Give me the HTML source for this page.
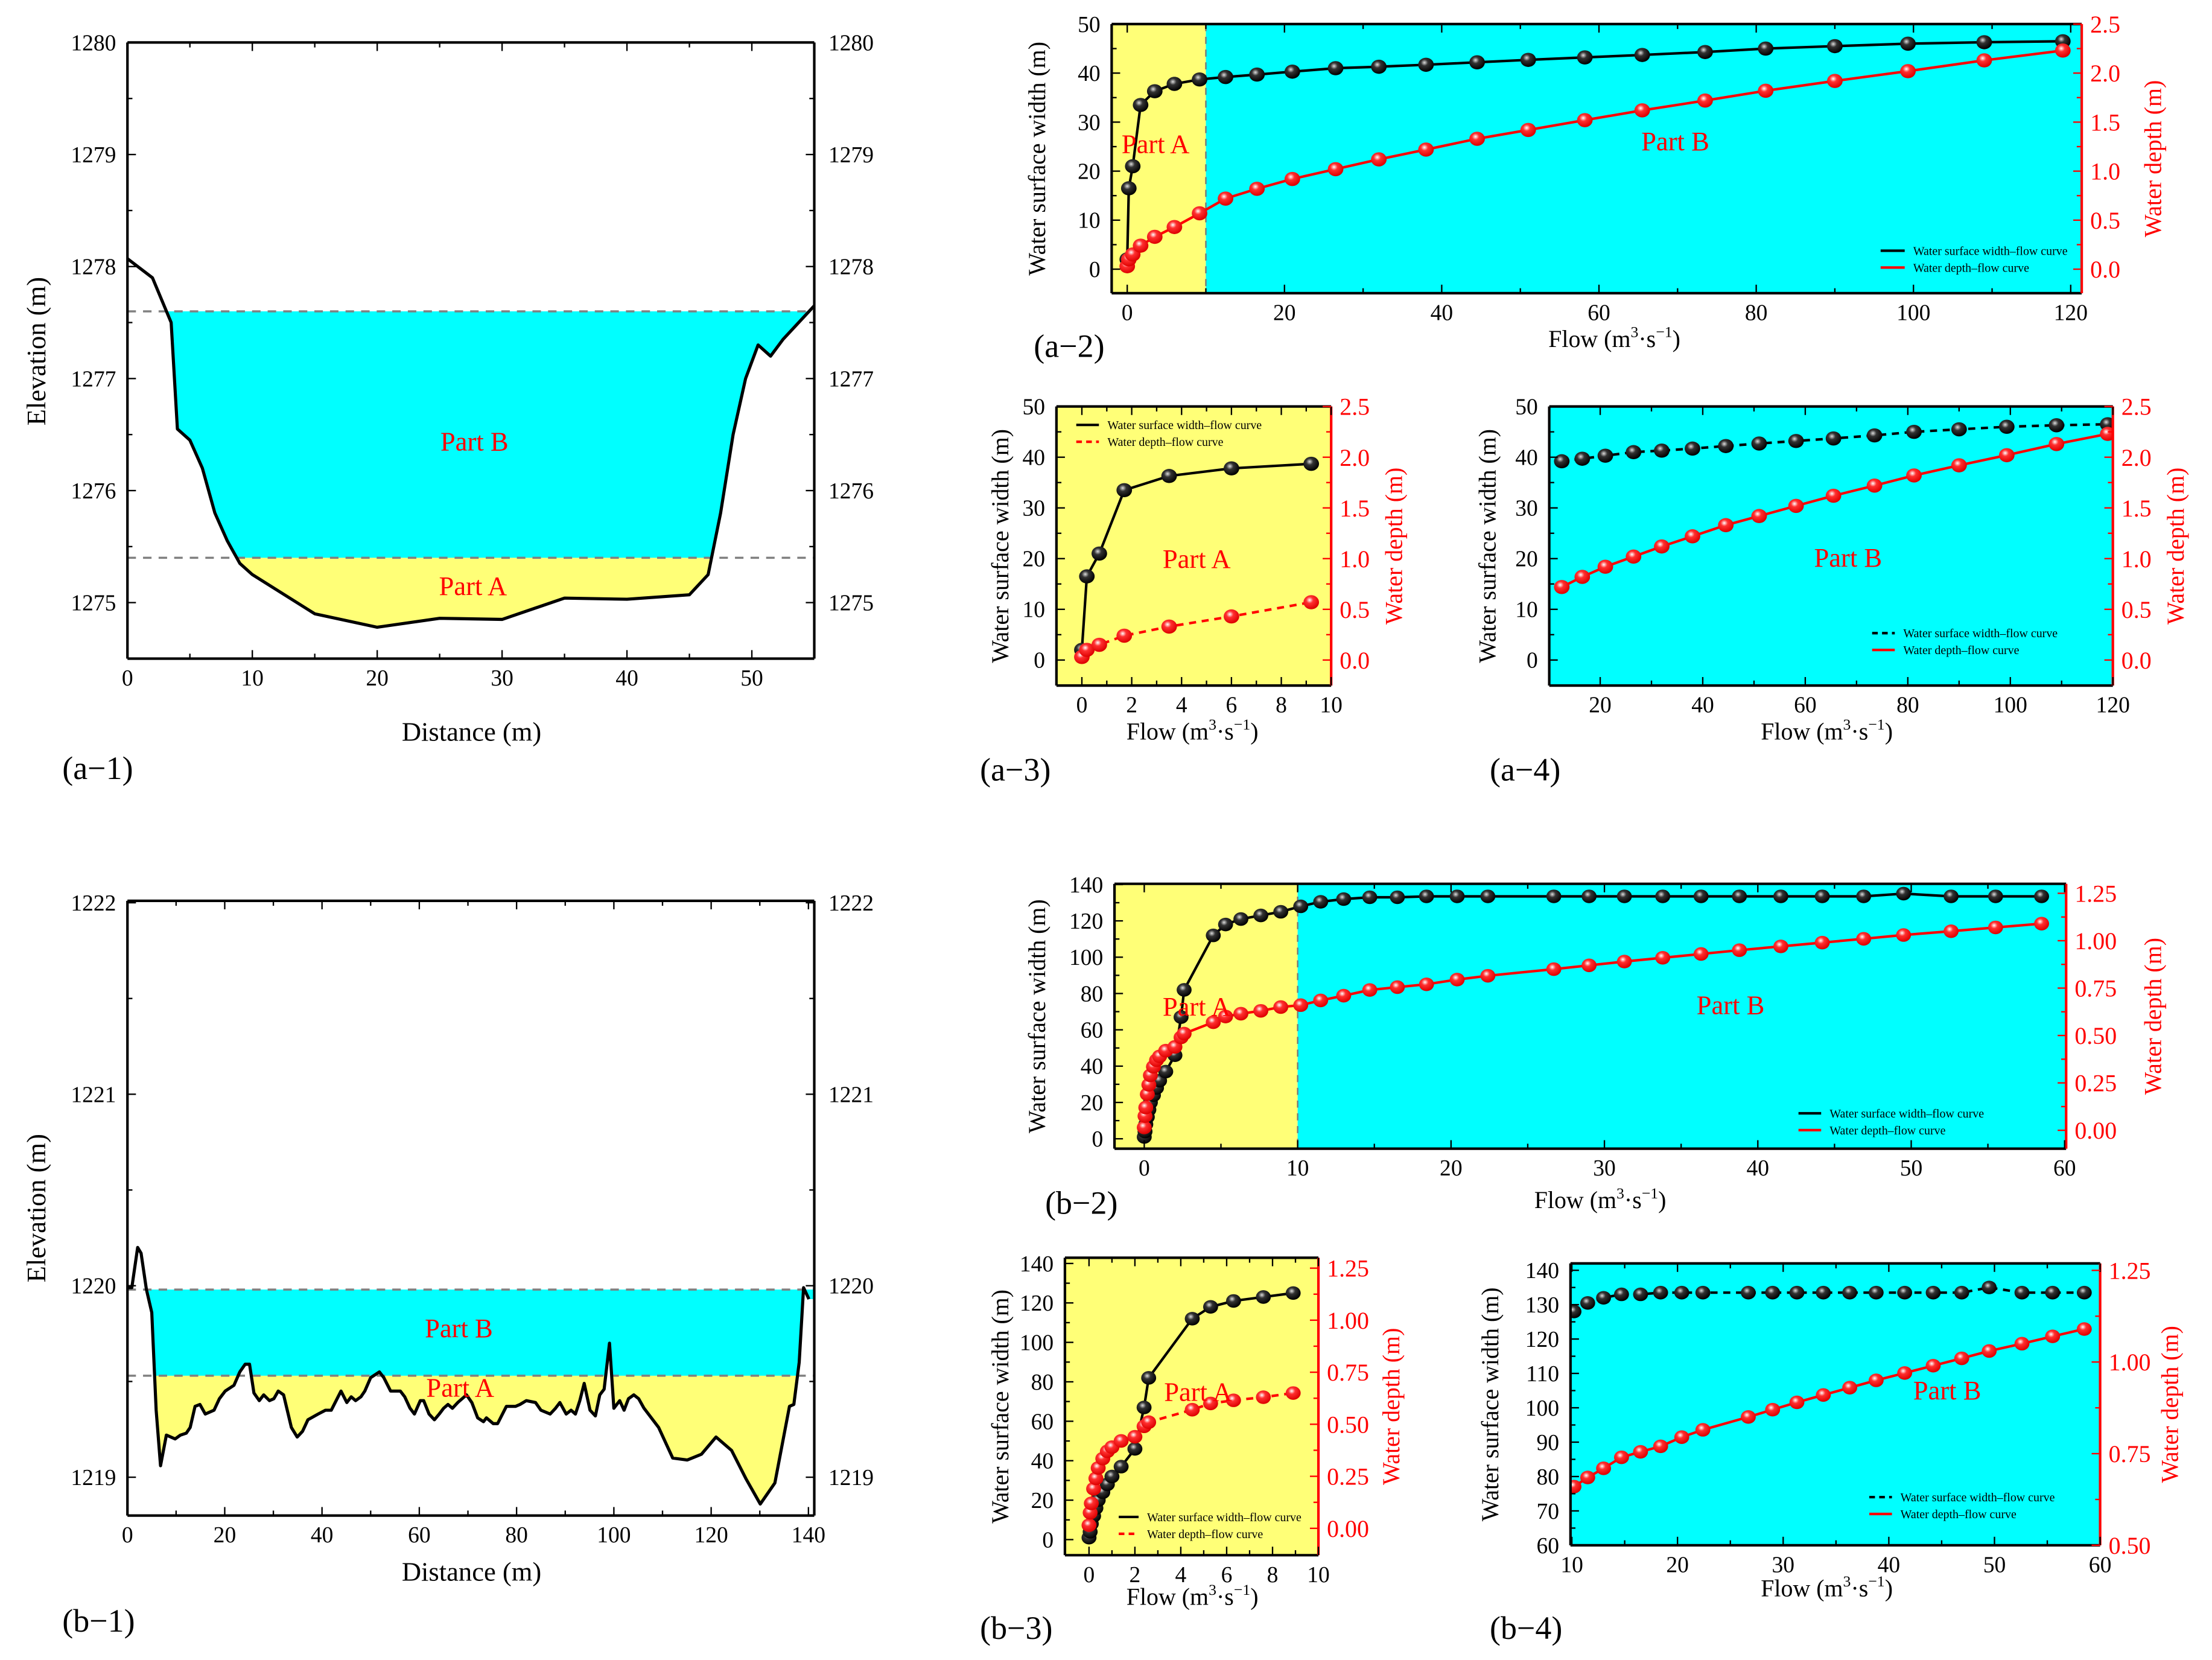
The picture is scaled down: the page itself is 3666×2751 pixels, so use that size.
<!DOCTYPE html>
<html><head><meta charset="utf-8">
<style>
html,body{margin:0;padding:0;background:#fff;}
svg{display:block;}
svg text{font-family:"Liberation Serif","Times New Roman",serif;}
</style></head>
<body>
<svg id="fig" width="3666" height="2751" viewBox="0 0 1562 1172" preserveAspectRatio="none" xmlns="http://www.w3.org/2000/svg" font-family="Liberation Serif, serif">
<defs>
<radialGradient id="gBlack" cx="0.4" cy="0.35" r="0.65"><stop offset="0" stop-color="#ddd"/><stop offset="0.35" stop-color="#333"/><stop offset="1" stop-color="#000"/></radialGradient>
<radialGradient id="gRed" cx="0.4" cy="0.35" r="0.65"><stop offset="0" stop-color="#fff"/><stop offset="0.35" stop-color="#ff3030"/><stop offset="1" stop-color="#d00"/></radialGradient>
</defs>
</svg>
<script>
// ---- data: cross-section a ----
const aDist=[0,2,3.5,4,5,6,7,8,9,10,15,20,25,30,35,40,45,46.5,47.5,48.5,49.5,50.5,51.5,52.5,55];
const aElev=[1278.07,1277.9,1277.5,1276.55,1276.45,1276.2,1275.8,1275.55,1275.35,1275.25,1274.9,1274.78,1274.86,1274.85,1275.04,1275.03,1275.07,1275.25,1275.8,1276.5,1277.0,1277.3,1277.2,1277.35,1277.65];
const aLevelB=1277.6, aLevelA=1275.4;
// ---- data: rating curves a ----
const aQ=[0,0.2,0.7,1.7,3.5,6,9.2,12.5,16.5,21,26.5,32,38,44.5,51,58.2,65.5,73.5,81.2,90,99.3,109,119];
const aW=[2,16.5,21,33.5,36.3,37.8,38.7,39.2,39.7,40.3,41,41.3,41.7,42.2,42.7,43.2,43.7,44.3,45,45.5,46,46.3,46.5];
const aD=[0.03,0.1,0.15,0.24,0.33,0.43,0.57,0.72,0.82,0.92,1.02,1.12,1.22,1.33,1.42,1.52,1.62,1.72,1.82,1.92,2.02,2.13,2.23];
// ---- data: cross-section b ----
const bDist=[0,0.9,2.1,2.8,3.9,5.0,5.9,6.8,8.0,9.8,10.9,12.1,12.9,13.9,14.9,16.0,17.8,18.9,20.1,21.9,23.1,24.2,25.1,26.0,27.1,28.0,29.2,30.1,31.0,32.1,33.7,34.9,36.0,37.1,39.2,40.7,41.9,43.9,45.1,46.0,46.9,48.0,48.8,50.0,51.8,52.7,54.1,55.0,56.1,57.0,58.1,59.0,60.2,60.9,62.0,63.1,64.1,65.0,65.9,66.8,67.9,69.7,70.8,72.0,73.2,73.8,75.2,76.1,77.9,79.8,80.7,82.0,83.9,85.0,86.9,88.0,88.9,90.2,91.2,92.1,93.0,93.9,95.1,96.2,97.1,98.0,99.1,100.0,101.2,102.1,103.0,104.1,105.1,106.2,109.2,112.1,115.1,118.0,121.0,124.2,127.2,130.1,133.1,136.1,137.0,138.1,139.0,140.1];
const bElev=[1219.99,1219.99,1220.20,1220.17,1219.98,1219.86,1219.35,1219.06,1219.22,1219.20,1219.22,1219.23,1219.26,1219.37,1219.38,1219.33,1219.35,1219.41,1219.45,1219.48,1219.55,1219.59,1219.59,1219.44,1219.40,1219.43,1219.40,1219.41,1219.45,1219.43,1219.26,1219.21,1219.24,1219.30,1219.33,1219.35,1219.35,1219.45,1219.39,1219.42,1219.40,1219.42,1219.45,1219.52,1219.55,1219.52,1219.45,1219.45,1219.45,1219.42,1219.36,1219.33,1219.40,1219.40,1219.33,1219.30,1219.33,1219.36,1219.38,1219.36,1219.39,1219.43,1219.39,1219.31,1219.29,1219.31,1219.28,1219.28,1219.37,1219.37,1219.38,1219.40,1219.39,1219.35,1219.33,1219.36,1219.39,1219.33,1219.35,1219.33,1219.40,1219.49,1219.35,1219.32,1219.43,1219.46,1219.70,1219.36,1219.40,1219.35,1219.41,1219.43,1219.41,1219.36,1219.26,1219.10,1219.09,1219.12,1219.21,1219.14,1218.99,1218.86,1218.97,1219.37,1219.38,1219.60,1219.99,1219.93];
const bLevelB=1219.98, bLevelA=1219.53;
// ---- data: rating curves b ----
const bQ=[0,0.05,0.1,0.2,0.3,0.4,0.6,0.8,1.0,1.4,2.0,2.4,2.6,4.5,5.3,6.3,7.6,8.9,10.2,11.5,13.0,14.7,16.5,18.4,20.4,22.4,26.7,29.0,31.3,33.8,36.3,38.8,41.5,44.2,46.9,49.5,52.6,55.5,58.5];
const bW=[1,4,8,12,16,20,24,28,32,37,46,67,82,112,118,121,123,125,128,130.5,132,133,133,133.5,133.5,133.5,133.5,133.5,133.5,133.5,133.5,133.5,133.5,133.5,133.5,135,133.5,133.5,133.5];
const bD=[0.015,0.075,0.12,0.19,0.24,0.29,0.335,0.37,0.39,0.42,0.44,0.49,0.51,0.57,0.6,0.615,0.63,0.65,0.66,0.685,0.71,0.74,0.755,0.77,0.795,0.815,0.85,0.87,0.89,0.91,0.93,0.95,0.97,0.99,1.01,1.03,1.05,1.07,1.09];

const NS='http://www.w3.org/2000/svg';
const svg=document.getElementById('fig');
const FF='"Liberation Serif", "Times New Roman", serif';
function mk(tag,attrs,parent){const e=document.createElementNS(NS,tag);for(const k in attrs)e.setAttribute(k,attrs[k]);(parent||svg).appendChild(e);return e;}
function txt(s,x,y,size,fill,anchor,parent,rot){const t=mk('text',{x:x,y:y,'font-size':size,fill:fill||'#000','text-anchor':anchor||'middle','font-family':FF},parent);t.style.fontFamily=FF;if(rot)t.setAttribute('transform','rotate(-90 '+x+' '+y+')');t.textContent=s;return t;}
function flowTitle(x,y,g){const t=mk('text',{x:x,y:y,'font-size':17,'text-anchor':'middle','font-family':FF},g);t.style.fontFamily=FF;t.innerHTML='Flow (m<tspan font-size="11" dy="-7">3</tspan><tspan dy="7">·s</tspan><tspan font-size="11" dy="-7">−1</tspan><tspan dy="7">)</tspan>';}
let clipId=0;
function axes(c){
  const g=mk('g',{});
  
  
  c.g=g;
  c.sx=v=>c.x0+(v-c.xd[0])/(c.xd[1]-c.xd[0])*(c.x1-c.x0);
  c.sy=v=>c.y1-(v-c.yd[0])/(c.yd[1]-c.yd[0])*(c.y1-c.y0);
  if(c.ry)c.sr=v=>c.y1-(v-c.ry[0])/(c.ry[1]-c.ry[0])*(c.y1-c.y0);
  const id='clip'+(clipId++);
  const cp=mk('clipPath',{id:id},g);mk('rect',{x:c.x0,y:c.y0,width:c.x1-c.x0,height:c.y1-c.y0},cp);
  c.plot=mk('g',{'clip-path':'url(#'+id+')'},g);
  return c;
}
function frame(c){
  const g=c.g, rc=c.ry?'#f00':'#000';
  const f=mk('g',{},g);
  mk('line',{x1:c.x0,y1:c.y0,x2:c.x1,y2:c.y0,stroke:'#000','stroke-width':1.8},f);
  mk('line',{x1:c.x0,y1:c.y1,x2:c.x1,y2:c.y1,stroke:'#000','stroke-width':1.8},f);
  mk('line',{x1:c.x0,y1:c.y0,x2:c.x0,y2:c.y1,stroke:'#000','stroke-width':1.8},f);
  mk('line',{x1:c.x1,y1:c.y0,x2:c.x1,y2:c.y1,stroke:rc,'stroke-width':1.8},f);
  for(let v=c.xt[0];v<=c.xt[1]+1e-9;v+=c.xt[2]/2){
    const major=Math.abs(((v-c.xt[0])/c.xt[2])-Math.round((v-c.xt[0])/c.xt[2]))<1e-6;
    const x=c.sx(v);if(x<c.x0-0.5||x>c.x1+0.5)continue;
    const L=major?6:3.5;
    mk('line',{x1:x,y1:c.y1,x2:x,y2:c.y1-L,stroke:'#000','stroke-width':1},f);
    mk('line',{x1:x,y1:c.y0,x2:x,y2:c.y0+L,stroke:'#000','stroke-width':1},f);
    if(major){const t=txt(String(+v.toFixed(2)),x,c.y1+19,16,'#000','middle',f);}
  }
  for(let v=c.yt[0];v<=c.yt[1]+1e-9;v+=c.yt[2]/2){
    const major=Math.abs(((v-c.yt[0])/c.yt[2])-Math.round((v-c.yt[0])/c.yt[2]))<1e-6;
    const y=c.sy(v);const L=major?6:3.5;
    mk('line',{x1:c.x0,y1:y,x2:c.x0+L,y2:y,stroke:'#000','stroke-width':1},f);
    if(!c.ry)mk('line',{x1:c.x1,y1:y,x2:c.x1-L,y2:y,stroke:'#000','stroke-width':1},f);
    if(major){
      const t=txt(String(+v.toFixed(2)),c.x0-8,y+5.5,16,'#000','end',f);
      
      if(c.rightLabels){const t2=txt(String(+v.toFixed(2)),c.x1+10,y+5.5,16,'#000','start',f);}
    }
  }
  if(c.ry){
    for(let v=c.rt[0];v<=c.rt[1]+1e-9;v+=c.rt[2]/2){
      const major=Math.abs(((v-c.rt[0])/c.rt[2])-Math.round((v-c.rt[0])/c.rt[2]))<1e-6;
      const y=c.sr(v);const L=major?6:3.5;
      mk('line',{x1:c.x1,y1:y,x2:c.x1-L,y2:y,stroke:'#f00','stroke-width':1},f);
      if(major){const t=txt(v.toFixed(c.rdec),c.x1+6,y+6,17,'#f00','start',f);}
    }
  }
}
function section(c,dist,elev,lb,la){
  axes(c);const p=c.plot;
  const yb=c.sy(lb), ya=c.sy(la);
  const cy=mk('rect',{x:c.x0,y:yb,width:c.x1-c.x0,height:ya-yb,fill:'#00ffff'},p);
  const ye=mk('rect',{x:c.x0,y:ya,width:c.x1-c.x0,height:c.y1-ya,fill:'#ffff77'},p);
  let pts=dist.map((d,i)=>c.sx(d).toFixed(2)+','+c.sy(elev[i]).toFixed(2));
  mk('polygon',{points:c.x0+','+c.y1+' '+pts.join(' ')+' '+c.x1+','+c.sy(elev[elev.length-1])+' '+c.x1+','+c.y1,fill:'#fff'},p);
  mk('line',{x1:c.x0,y1:yb,x2:c.x1,y2:yb,stroke:'#808080','stroke-width':1.5,'stroke-dasharray':'6 5'},p);
  mk('line',{x1:c.x0,y1:ya,x2:c.x1,y2:ya,stroke:'#808080','stroke-width':1.5,'stroke-dasharray':'6 5'},p);
  const pl=mk('polyline',{points:pts.join(' '),fill:'none',stroke:'#000','stroke-width':2.2,'stroke-linejoin':'round'},p);
  
  frame(c);
}
function rating(c,Q,W,D,idx){
  axes(c);const p=c.plot;
  (c.bands||[]).forEach(b=>{const r=mk('rect',{x:c.sx(b[0]),y:c.y0,width:c.sx(b[1])-c.sx(b[0]),height:c.y1-c.y0,fill:b[2]},p);});
  if(c.split!==undefined)mk('line',{x1:c.sx(c.split),y1:c.y0,x2:c.sx(c.split),y2:c.y1,stroke:'#777','stroke-width':1,'stroke-dasharray':'5 4'},p);
  const wp=idx.map(i=>c.sx(Q[i]).toFixed(2)+','+c.sy(W[i]).toFixed(2)).join(' ');
  const dp=idx.map(i=>c.sx(Q[i]).toFixed(2)+','+c.sr(D[i]).toFixed(2)).join(' ');
  const l1=mk('polyline',{points:wp,fill:'none',stroke:'#000','stroke-width':1.8,'stroke-dasharray':c.wDash?'5 4':'none'},p);
  
  const l2=mk('polyline',{points:dp,fill:'none',stroke:'#f00','stroke-width':1.8,'stroke-dasharray':c.dDash?'5 4':'none'},p);
  
  idx.forEach(i=>{
    const m=mk('ellipse',{cx:c.sx(Q[i]),cy:c.sy(W[i]),rx:c.mr*1.1,ry:c.mr,fill:'url(#gBlack)'},p);
    
  });
  idx.forEach(i=>{
    const m=mk('ellipse',{cx:c.sx(Q[i]),cy:c.sr(D[i]),rx:c.mr*1.1,ry:c.mr,fill:'url(#gRed)'},p);
    
  });
  const lg=mk('g',{},c.g);
  const [lx,ly,fs,ll]=c.leg;
  mk('line',{x1:lx,y1:ly,x2:lx+ll,y2:ly,stroke:'#000','stroke-width':1.8,'stroke-dasharray':c.wDash?'4 3':'none'},lg);
  txt('Water surface width–flow curve',lx+ll+6,ly+fs*0.35,fs,'#000','start',lg);
  mk('line',{x1:lx,y1:ly+fs*1.4,x2:lx+ll,y2:ly+fs*1.4,stroke:'#f00','stroke-width':1.8,'stroke-dasharray':c.dDash?'4 3':'none'},lg);
  txt('Water depth–flow curve',lx+ll+6,ly+fs*1.75,fs,'#000','start',lg);
  frame(c);
  const t1=txt('Water surface width (m)',c.ltx,(c.y0+c.y1)/2,c.yts,'#000','middle',c.g,true);
  const t2=txt('Water depth (m)',c.rtx,(c.y0+c.y1)/2,c.yts,'#f00','middle',c.g,true);
  flowTitle(c.ftx,c.fty,c.g);
}
function partLabel(s,x,y,name){const t=txt(s,x,y,19,'#f00','middle');}
function panelLabel(s,x,y){const t=txt(s,x,y,23,'#000','start');}

section({name:'panel-a1',x0:90,x1:575,y0:30,y1:465,xd:[0,55],yd:[1274.5,1280],xt:[0,50,10],yt:[1275,1280,1],rightLabels:true},aDist,aElev,aLevelB,aLevelA);
{const t=txt('Elevation (m)',32,248,19,'#000','middle',null,true);
 const t2=txt('Distance (m)',333,523,19);}
partLabel('Part B',335,318,'part-b-label');partLabel('Part A',334,420,'part-a-label');
panelLabel('(a−1)',44,550);

section({name:'panel-b1',x0:90,x1:575,y0:636,y1:1070,xd:[0,141.2],yd:[1218.8,1222.01],xt:[0,140,20],yt:[1219,1222,1],rightLabels:true},bDist,bElev,bLevelB,bLevelA);
{const t=txt('Elevation (m)',32,853,19,'#000','middle',null,true);
 const t2=txt('Distance (m)',333,1116,19);}
partLabel('Part B',324,944,'part-b-label');partLabel('Part A',325,986,'part-a-label');
panelLabel('(b−1)',44,1152);

const aAll=aQ.map((_,i)=>i), aLow=aAll.filter(i=>aQ[i]<=10), aHigh=aAll.filter(i=>aQ[i]>10);
const bAll=bQ.map((_,i)=>i), bLow=bAll.filter(i=>bQ[i]<=10), bHigh=bAll.filter(i=>bQ[i]>10);

rating({name:'panel-a2',x0:785,x1:1470,y0:17,y1:207,xd:[-1.98,121.4],yd:[-4.9,50],ry:[-0.245,2.5],xt:[0,120,20],yt:[0,50,10],rt:[0,2.5,0.5],rdec:1,
 bands:[[-5,10,'#ffff77'],[10,130,'#00ffff']],split:10,mr:5,leg:[1328,177,8.5,17],ltx:738,rtx:1526,yts:17,ftx:1140,fty:245},aQ,aW,aD,aAll);
partLabel('Part A',816,108,'part-a-label');partLabel('Part B',1183,106,'part-b-label');
panelLabel('(a−2)',730,252);

rating({name:'panel-a3',x0:746,x1:940,y0:287,y1:484,xd:[-1.02,10],yd:[-5.03,50],ry:[-0.2515,2.5],xt:[0,10,2],yt:[0,50,10],rt:[0,2.5,0.5],rdec:1,
 bands:[[-5,20,'#ffff77']],mr:5,leg:[760,300,8.5,16],ltx:712,rtx:990,yts:17,ftx:842,fty:522,dDash:true},aQ,aW,aD,aLow);
partLabel('Part A',845,401,'part-a-label');
panelLabel('(a−3)',692,551);

rating({name:'panel-a4',x0:1094,x1:1492,y0:287,y1:484,xd:[10.06,120],yd:[-5.03,50],ry:[-0.2515,2.5],xt:[20,120,20],yt:[0,50,10],rt:[0,2.5,0.5],rdec:1,
 bands:[[0,130,'#00ffff']],mr:5,leg:[1322,447,8.5,16],ltx:1056,rtx:1542,yts:17,ftx:1290,fty:522,wDash:true},aQ,aW,aD,aHigh);
partLabel('Part B',1305,400,'part-b-label');
panelLabel('(a−4)',1052,551);

rating({name:'panel-b2',x0:787,x1:1459,y0:624,y1:811,xd:[-1.94,60.1],yd:[-5.46,140.4],ry:[-0.097,1.30],xt:[0,60,10],yt:[0,140,20],rt:[0,1.25,0.25],rdec:2,
 bands:[[-5,10,'#ffff77'],[10,70,'#00ffff']],split:10,mr:4.8,leg:[1270,786,8.5,16],ltx:738,rtx:1526,yts:17,ftx:1130,fty:853},bQ,bW,bD,bAll);
partLabel('Part A',845,717,'part-a-label');partLabel('Part B',1222,716,'part-b-label');
panelLabel('(b−2)',738,857);

rating({name:'panel-b3',x0:752,x1:931,y0:888,y1:1098,xd:[-1.05,10],yd:[-7.9,142.9],ry:[-0.129,1.30],xt:[0,10,2],yt:[0,140,20],rt:[0,1.25,0.25],rdec:2,
 bands:[[-5,20,'#ffff77']],mr:4.8,leg:[790,1071,8.5,14],ltx:712,rtx:988,yts:17,ftx:842,fty:1133,dDash:true},bQ,bW,bD,bLow);
partLabel('Part A',846,989,'part-a-label');
panelLabel('(b−3)',692,1157);

rating({name:'panel-b4',x0:1109,x1:1483,y0:892,y1:1091,xd:[9.87,60],yd:[60,142],ry:[0.5,1.269],xt:[10,60,10],yt:[60,140,10],rt:[0.5,1.25,0.25],rdec:2,
 bands:[[0,70,'#00ffff']],mr:4.8,leg:[1320,1057,8.5,16],ltx:1058,rtx:1538,yts:17,ftx:1290,fty:1127,wDash:true},bQ,bW,bD,bHigh);
partLabel('Part B',1375,988,'part-b-label');
panelLabel('(b−4)',1052,1157);
</script>
</body></html>
